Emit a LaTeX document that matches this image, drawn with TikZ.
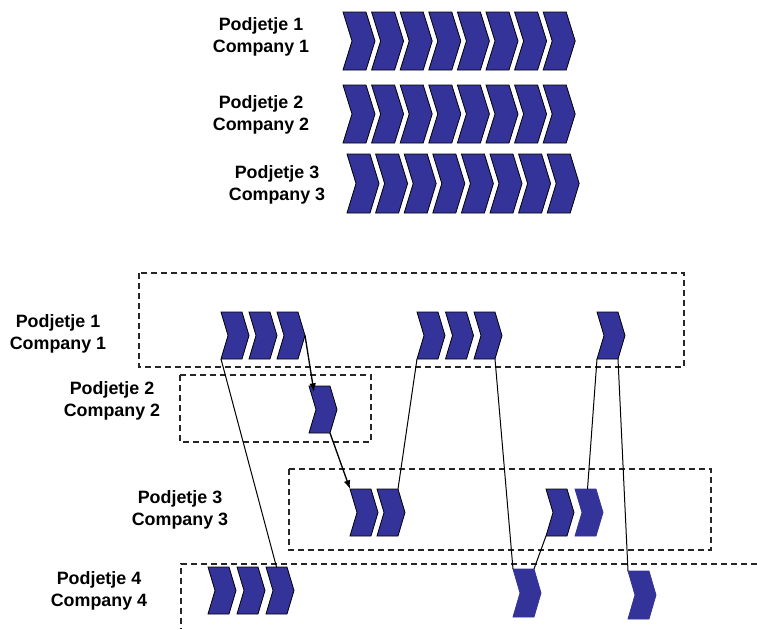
\documentclass[tikz,border=0pt]{standalone}
\usepackage{fontspec}
\setmainfont{Liberation Sans}
\usetikzlibrary{arrows.meta}
\definecolor{chevblue}{RGB}{51,51,153}

\tikzset{
  chev w/.store in=\chw, chev d/.store in=\chd, chev h/.store in=\chh,
  chev edge/.store in=\chedge,
  chev w=21, chev d=7, chev h=47, chev edge=black,
  bigchev/.style={chev w=23, chev d=9, chev h=58},
  smallchev/.style={chev w=21, chev d=7, chev h=47},
  soft/.style={chev edge=chevblue},
  % one chevron, anchored at its top-left corner
  chevron/.pic={
    \filldraw[fill=chevblue, draw=\chedge, line width=0.6pt, line join=miter]
      (0,0) coordinate (-tl) -- (\chw,0) coordinate (-tr)
      -- ({\chw+\chd},{\chh/2}) coordinate (-tip)
      -- (\chw,\chh) coordinate (-br) -- (0,\chh) coordinate (-bl)
      -- (\chd,{\chh/2}) -- cycle;
    \coordinate (-tm) at ({\chw/2},0);
  },
  company/.style={font=\bfseries\fontsize{13.4}{16.5}\selectfont, align=center, inner sep=0pt},
  zone/.style={draw=black!85, dash pattern=on 4.5pt off 3pt, line width=0.9pt},
  link/.style={draw=black, line width=0.75pt},
  flow/.style={draw=black, line width=1pt, -{Latex[length=6.5pt,width=5pt]}}
}

\begin{document}
\begin{tikzpicture}[x=0.75pt, y=-0.75pt]
\useasboundingbox (0,0) rectangle (757,629);

% ---- full value chains of the three companies ----
\node[company] (top1) at (261,37)  {Podjetje 1\\Company 1};
\node[company] (top2) at (261,115) {Podjetje 2\\Company 2};
\node[company] (top3) at (277,185) {Podjetje 3\\Company 3};

\foreach \i in {1,...,8} {
  \pic[bigchev] (ra\i) at ({343+(\i-1)*28.6},12)  {chevron};
  \pic[bigchev] (rb\i) at ({343+(\i-1)*28.6},85)  {chevron};
  \pic[bigchev, chev h=59] (rc\i) at ({347+(\i-1)*28.6},154) {chevron};
}

% ---- distributed chain ----
\draw[zone] (139,273) rectangle (684,367);
\draw[zone] (180,375) rectangle (371,442);
\draw[zone] (289,469) rectangle (711,550);
\draw[zone] (757,564) -| (181,629);

\node[company] (lab1) at (58,334)  {Podjetje 1\\Company 1};
\node[company] (lab2) at (112,401) {Podjetje 2\\Company 2};
\node[company] (lab3) at (180,510) {Podjetje 3\\Company 3};
\node[company] (lab4) at (99,591)  {Podjetje 4\\Company 4};

% company 1
\pic[smallchev] (a1) at (221,312) {chevron};
\pic[smallchev] (a2) at (249,312) {chevron};
\pic[smallchev] (a3) at (277,312) {chevron};
\pic[smallchev] (m1) at (417,312) {chevron};
\pic[smallchev] (m2) at (445.5,312) {chevron};
\pic[smallchev] (m3) at (474,312) {chevron};
\pic[smallchev] (s1) at (597,312) {chevron};
% company 2
\pic[smallchev] (b1) at (309,386) {chevron};
% company 3
\pic[smallchev] (c1) at (350,489) {chevron};
\pic[smallchev] (c2) at (377,489) {chevron};
\pic[smallchev, line width=1pt] (c3) at (546,489) {chevron};
\pic[smallchev, soft] (c4) at (575,489) {chevron};
% company 4
\pic[smallchev] (d1) at (208,567) {chevron};
\pic[smallchev] (d2) at (237,567) {chevron};
\pic[smallchev] (d3) at (266,567) {chevron};
\pic[smallchev, soft, chev h=48] (e1) at (513,569) {chevron};
\pic[smallchev, soft, chev h=48] (e2) at (628,571) {chevron};

% hand-overs between the companies
\draw[link] (a1-bl) -- (d3-tm);
\draw[flow] (a3-tip) -- ([shift={(5,6)}]b1-tl);
\draw[flow] (b1-br) -- (c1-tl);
\draw[link] (c2-tr) -- (m1-bl);
\draw[link] (m3-br) -- (e1-tl);
\draw[link] (c3-bl) -- (e1-tr);
\draw[link] (s1-bl) -- ([shift={(2,0)}]c4-tm);
\draw[link] (s1-br) -- (e2-tl);
\end{tikzpicture}
\end{document}
